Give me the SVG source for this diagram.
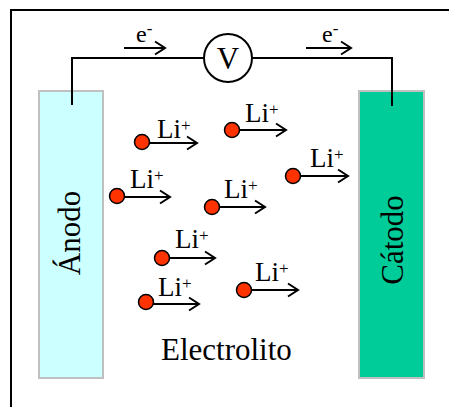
<svg xmlns="http://www.w3.org/2000/svg" width="449" height="407" viewBox="0 0 449 407">
<defs>
<style>
.t{font-family:"Liberation Serif","Times New Roman",serif;fill:#000}
.big{font-size:31px}
.li{font-size:27px}
.el{font-size:24px}
.sup{font-size:17px}
.wire{fill:none;stroke:#000;stroke-width:2}
.arr{fill:none;stroke:#000;stroke-width:2;marker-end:url(#ah)}
.ion{fill:#ff3300;stroke:#000;stroke-width:1.5}
.elec{stroke:#c0c0c0;stroke-width:2}
</style>
<marker id="ah" markerUnits="userSpaceOnUse" markerWidth="14" markerHeight="16" refX="12" refY="7" orient="auto" overflow="visible">
<path d="M2,0.5 L12,7 L2,13.5" fill="none" stroke="#000" stroke-width="2"/>
</marker>
</defs>
<rect width="449" height="407" fill="#fff"/>
<g id="frame"><path class="wire" d="M11,410 L11,10 L452,10"/></g>
<g id="anode"><rect class="elec" x="39" y="91" width="64" height="287" fill="#ccffff"/>
<text class="t big" transform="translate(80,233) rotate(-90)" text-anchor="middle">Ánodo</text></g>
<g id="cathode"><rect class="elec" x="359" y="91" width="65" height="287" fill="#00cc99"/>
<text class="t big" transform="translate(403,240) rotate(-90)" text-anchor="middle">Cátodo</text></g>
<g id="voltmeter"><circle cx="228" cy="58" r="24" fill="#fff" stroke="#000" stroke-width="2"/>
<text class="t big" x="228" y="69" text-anchor="middle">V</text></g>
<g id="connectors">
<path class="wire" d="M72,105 L72,58 L204,58"/>
<path class="wire" d="M252,58 L392,58 L392,106"/>
<line class="arr" x1="124" y1="48" x2="165" y2="48"/>
<line class="arr" x1="306" y1="48" x2="351" y2="48"/>
</g>
<g id="electron-labels">
<text class="t el" x="136" y="42">e<tspan class="sup" dy="-8">-</tspan></text>
<text class="t el" x="322" y="42">e<tspan class="sup" dy="-8">-</tspan></text>
</g>
<g id="ion1"><line class="arr" x1="142" y1="143" x2="197" y2="143"/><circle class="ion" cx="142" cy="142" r="7.5"/><text class="t li" x="157" y="138">Li<tspan class="sup" dy="-7">+</tspan></text></g>
<g id="ion2"><line class="arr" x1="232" y1="130" x2="286" y2="130"/><circle class="ion" cx="232" cy="130" r="7.5"/><text class="t li" x="245" y="122">Li<tspan class="sup" dy="-7">+</tspan></text></g>
<g id="ion3"><line class="arr" x1="293" y1="176" x2="348" y2="176"/><circle class="ion" cx="293" cy="176" r="7.5"/><text class="t li" x="310" y="167">Li<tspan class="sup" dy="-7">+</tspan></text></g>
<g id="ion4"><line class="arr" x1="117" y1="197" x2="170" y2="197"/><circle class="ion" cx="117" cy="196" r="7.5"/><text class="t li" x="130" y="188">Li<tspan class="sup" dy="-7">+</tspan></text></g>
<g id="ion5"><line class="arr" x1="212" y1="207" x2="265" y2="207"/><circle class="ion" cx="212" cy="207" r="7.5"/><text class="t li" x="224" y="198">Li<tspan class="sup" dy="-7">+</tspan></text></g>
<g id="ion6"><line class="arr" x1="162" y1="258" x2="215" y2="258"/><circle class="ion" cx="162" cy="258" r="7.5"/><text class="t li" x="175" y="248">Li<tspan class="sup" dy="-7">+</tspan></text></g>
<g id="ion7"><line class="arr" x1="146" y1="304" x2="199" y2="304"/><circle class="ion" cx="146" cy="302" r="7.5"/><text class="t li" x="158" y="296">Li<tspan class="sup" dy="-7">+</tspan></text></g>
<g id="ion8"><line class="arr" x1="244" y1="290" x2="298" y2="290"/><circle class="ion" cx="244" cy="290" r="7.5"/><text class="t li" x="255" y="281">Li<tspan class="sup" dy="-7">+</tspan></text></g>
<g id="electrolyte"><text class="t big" x="161" y="360">Electrolito</text></g>
</svg>
